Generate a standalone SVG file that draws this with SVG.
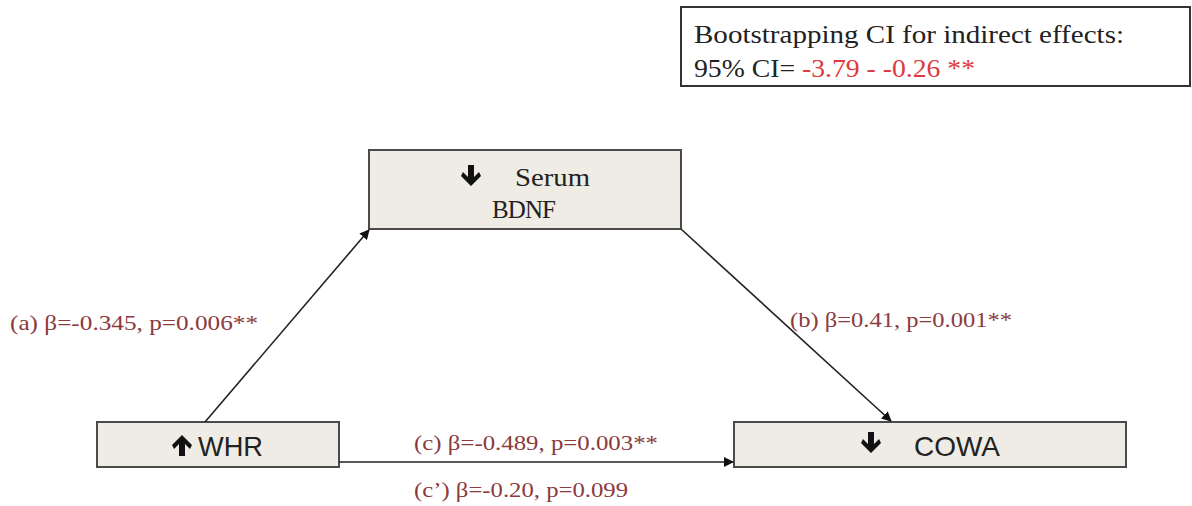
<svg xmlns="http://www.w3.org/2000/svg" width="1192" height="506" viewBox="0 0 1192 506">
<style>
.box{fill:#eeece5;stroke:#4a4a4a;stroke-width:2}
.serif{font-family:"Liberation Serif","DejaVu Serif",serif}
.sans{font-family:"Liberation Sans",Arial,sans-serif}
.lab{fill:#8c3a3e;font-size:21px}
.conn{stroke:#222;stroke-width:1.6;fill:none}
</style>
<defs>
<marker id="ah" markerWidth="10" markerHeight="10" refX="9" refY="5" orient="auto" markerUnits="userSpaceOnUse">
<path d="M0,0 L10,5 L0,10 Z" fill="#111"/>
</marker>
<path id="dn" d="M-3,-10 H3 V2 L8,-3 L10,1 L0,11 L-10,1 L-8,-3 L-3,2 Z" fill="#111"/>
</defs>
<rect width="1192" height="506" fill="#fff"/>
<g id="ci">
<rect x="681" y="7" width="509" height="79" fill="#fff" stroke="#333" stroke-width="2"/>
<text class="serif" x="694" y="43" font-size="26" fill="#222" textLength="430" lengthAdjust="spacingAndGlyphs">Bootstrapping CI for indirect effects:</text>
<text class="serif" x="694" y="77" font-size="26" fill="#222" textLength="281" lengthAdjust="spacingAndGlyphs">95% CI= <tspan fill="#e0393e">-3.79 - -0.26 **</tspan></text>
</g>
<g id="bdnf">
<rect class="box" x="369" y="150" width="312" height="79"/>
<use href="#dn" x="471" y="175"/>
<text class="serif" x="515" y="186" font-size="25" fill="#222" textLength="75" lengthAdjust="spacingAndGlyphs">Serum</text>
<text class="serif" x="492" y="218" font-size="25" fill="#222" textLength="64" lengthAdjust="spacing">BDNF</text>
</g>
<g id="whr">
<rect class="box" x="97" y="422" width="242" height="45"/>
<use href="#dn" transform="translate(182,446) rotate(180)"/>
<text class="sans" x="198" y="456" font-size="27" fill="#222" textLength="65" lengthAdjust="spacingAndGlyphs">WHR</text>
</g>
<g id="cowa">
<rect class="box" x="734" y="422" width="392" height="45"/>
<use href="#dn" x="871" y="442"/>
<text class="sans" x="914" y="456" font-size="28" fill="#222" textLength="86" lengthAdjust="spacingAndGlyphs">COWA</text>
</g>
<g id="connectors">
<line class="conn" x1="205" y1="422" x2="369" y2="230" marker-end="url(#ah)"/>
<line class="conn" x1="681" y1="229" x2="891" y2="421" marker-end="url(#ah)"/>
<line class="conn" x1="339" y1="462" x2="733" y2="462" marker-end="url(#ah)"/>
</g>
<g id="labels">
<text class="serif lab" x="10" y="330" textLength="248" lengthAdjust="spacingAndGlyphs">(a) β=-0.345, p=0.006**</text>
<text class="serif lab" x="790" y="327" textLength="222" lengthAdjust="spacingAndGlyphs">(b) β=0.41, p=0.001**</text>
<text class="serif lab" x="414" y="450" textLength="244" lengthAdjust="spacingAndGlyphs">(c) β=-0.489, p=0.003**</text>
<text class="serif lab" x="414" y="497" textLength="214" lengthAdjust="spacingAndGlyphs">(c’) β=-0.20, p=0.099</text>
</g>
</svg>
